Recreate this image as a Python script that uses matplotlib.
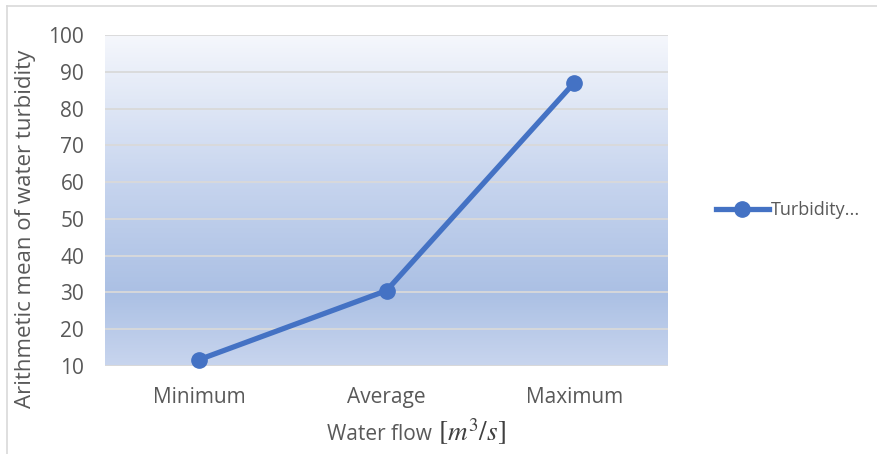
import numpy as np
import matplotlib.pyplot as plt
from matplotlib.colors import LinearSegmentedColormap
from matplotlib.lines import Line2D

# datos
categorias = ["Minimum", "Average", "Maximum"]
turbidez = [11.7, 30.5, 87.0]
serie = "Turbidity..."

plt.rcParams['font.family'] = ['Open Sans', 'DejaVu Sans']
plt.rcParams['mathtext.fontset'] = 'stix'

W, H = 877, 454
fig = plt.figure(figsize=(W / 100, H / 100), dpi=100)

# borde exterior gris (solo arriba y a la izquierda)
fig.add_artist(Line2D([7 / W, 1], [1 - 6 / H, 1 - 6 / H], color='#d9d9d9', lw=1.2))
fig.add_artist(Line2D([7 / W, 7 / W], [0, 1 - 6 / H], color='#d9d9d9', lw=1.2))

ax = fig.add_axes([105 / W, (H - 366) / H, 563 / W, 331 / H])
ax.set_xlim(0, 3)
ax.set_ylim(10, 100)

# fondo degradado del area del grafico
cmap = LinearSegmentedColormap.from_list(
    'fondo', [(0.0, '#c8d5ee'), (0.22, '#abc0e4'), (0.55, '#c6d4ee'), (1.0, '#f5f7fc')])
grad = np.linspace(0, 1, 256).reshape(-1, 1)
ax.imshow(grad, cmap=cmap, aspect='auto', extent=[0, 3, 10, 100],
          origin='lower', zorder=0)

ax.set_yticks(range(10, 101, 10))
ax.grid(axis='y', color='#d9d9d9', lw=1.3, zorder=1)
ax.set_axisbelow(False)
for s in ax.spines.values():
    s.set_visible(False)
ax.axhline(10, color='#d9d9d9', lw=1.3, zorder=1)

x = np.arange(len(categorias)) + 0.5
ax.plot(x, turbidez, color='#4472c4', lw=3.8, marker='o', ms=11,
        zorder=3, label=serie, clip_on=False)

ax.set_xticks(x)
ax.set_xticklabels(categorias)
ax.tick_params(length=0, labelsize=15, labelcolor='#595959')
ax.tick_params(axis='x', pad=15)
ax.tick_params(axis='y', pad=15)

fig.text(26 / W, 0.5 - 2 / H, "Arithmetic mean of water turbidity", rotation=90,
         ha='center', va='center', fontsize=16, color='#595959')
# titulo del eje x: texto + unidades en formula
fig.text(327 / W, 1 - 434 / H, "Water flow", ha='left', va='center',
         fontsize=15, color='#595959')
fig.text(438 / W, 1 - 433 / H, r"$[m^3/s]$", ha='left', va='center',
         fontsize=19.5, color='#404040')

leg = ax.legend(loc='center left', bbox_to_anchor=(700 / W, 1 - 210 / H),
                bbox_transform=fig.transFigure, frameon=False, fontsize=13,
                handlelength=2.9, handletextpad=0.1, labelcolor='#595959')

fig.savefig('out.png', dpi=100)
